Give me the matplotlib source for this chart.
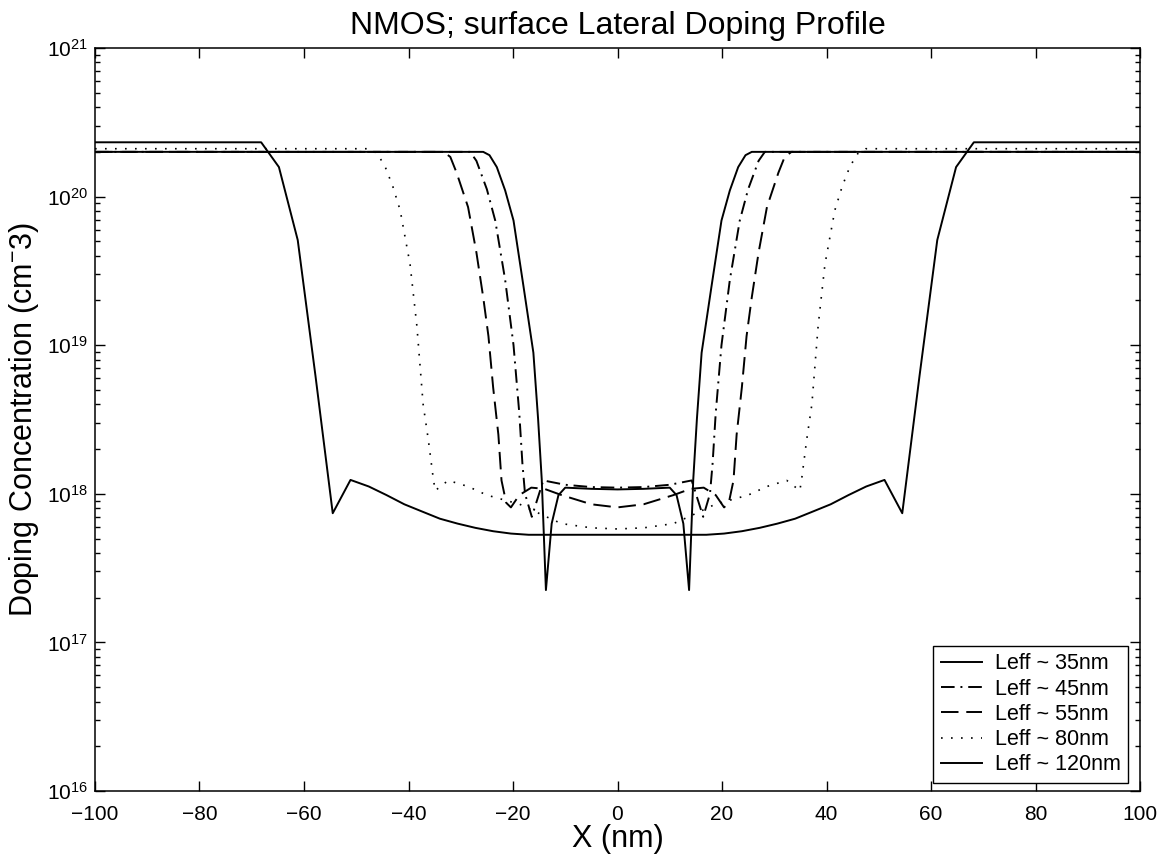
import matplotlib
matplotlib.use("Agg")
import matplotlib.pyplot as plt
from matplotlib.ticker import MultipleLocator, LogLocator

plt.rcParams['font.family'] = ['Liberation Sans', 'DejaVu Sans']
plt.rcParams['mathtext.fontset'] = 'custom'
plt.rcParams['mathtext.rm'] = 'Liberation Sans'
plt.rcParams['mathtext.it'] = 'Liberation Sans:italic'
plt.rcParams['mathtext.bf'] = 'Liberation Sans:bold'

# lateral position (nm) and doping (cm^-3)
x_35 = [-100, -25.7, -24.5, -23.1, -21.5, -19.9, -18.0, -16.1, -15.2, -14.5, -13.7,
        -12.6, -11.3, -10.0, -5.0, 0, 5.0, 10.0, 11.3, 12.6, 13.7, 14.5, 15.2, 16.1,
        18.0, 19.9, 21.5, 23.1, 24.5, 25.7, 100]
n_35 = [2.0e20, 2.0e20, 1.9e20, 1.58e20, 1.1e20, 6.9e19, 2.5e19, 8.9e18, 3.2e18, 1.25e18, 2.25e17,
        6.3e17, 9.8e17, 1.1e18, 1.08e18, 1.07e18, 1.08e18, 1.1e18, 9.8e17, 6.3e17, 2.25e17,
        1.25e18, 3.2e18, 8.9e18, 2.5e19, 6.9e19, 1.1e20, 1.58e20, 1.9e20, 2.0e20, 2.0e20]

x_45 = [-100, -28.2, -27.0, -25.0, -23.4, -21.5, -19.9, -18.8, -18.2, -17.7, -16.4,
        -14.2, -10.0, -5.0, 0, 5.0, 10.0, 14.2, 16.4, 17.7, 18.2, 18.8, 19.9, 21.5,
        23.4, 25.0, 27.0, 28.2, 100]
n_45 = [2.0e20, 2.0e20, 1.74e20, 1.12e20, 6.9e19, 2.75e19, 1.0e19, 3.5e18, 1.6e18, 1.0e18, 7.0e17,
        1.23e18, 1.15e18, 1.11e18, 1.1e18, 1.11e18, 1.15e18, 1.23e18, 7.0e17, 1.0e18, 1.6e18,
        3.5e18, 1.0e19, 2.75e19, 6.9e19, 1.12e20, 1.74e20, 2.0e20, 2.0e20]

x_55 = [-100, -33.3, -32.0, -30.8, -28.6, -27.0, -25.7, -24.7, -23.8, -22.8, -22.2, -21.3,
        -20.4, -18.8, -16.5, -14.0, -10.7, -5.0, 0, 5.0, 10.7, 14.0, 16.5, 18.8, 20.4,
        21.3, 22.2, 22.8, 23.8, 24.7, 25.7, 27.0, 28.6, 30.8, 32.0, 33.3, 100]
n_55 = [2.0e20, 2.0e20, 1.85e20, 1.45e20, 8.5e19, 4.2e19, 2.1e19, 1.15e19, 5.2e18, 2.5e18, 1.23e18, 8.7e17,
        8.1e17, 9.8e17, 1.1e18, 1.08e18, 9.8e17, 8.5e17, 8.1e17, 8.5e17, 9.8e17, 1.08e18, 1.1e18, 9.8e17, 8.1e17,
        8.7e17, 1.23e18, 2.5e18, 5.2e18, 1.15e19, 2.1e19, 4.2e19, 8.5e19, 1.45e20, 1.85e20, 2.0e20, 2.0e20]

x_80 = [-100, -47.5, -46.0, -44.5, -43.0, -41.6, -39.7, -38.4, -37.2, -36.2, -35.3, -34.9,
        -32.4, -28.6, -25.0, -18.7, -14.0, -10.7, -5.0, 0, 5.0, 10.7, 14.0, 18.7, 25.0,
        28.6, 32.4, 34.9, 35.3, 36.2, 37.2, 38.4, 39.7, 41.6, 43.0, 44.5, 46.0, 47.5, 100]
n_80 = [2.1e20, 2.1e20, 1.95e20, 1.6e20, 1.17e20, 8.1e19, 3.5e19, 1.35e19, 4.0e18, 2.3e18, 1.3e18, 1.05e18,
        1.23e18, 1.12e18, 9.8e17, 8.5e17, 7.1e17, 6.3e17, 5.9e17, 5.8e17, 5.9e17, 6.3e17, 7.1e17, 8.5e17, 9.8e17,
        1.12e18, 1.23e18, 1.05e18, 1.3e18, 2.3e18, 4.0e18, 1.35e19, 3.5e19, 8.1e19, 1.17e20, 1.6e20, 1.95e20, 2.1e20, 2.1e20]

x_120 = [-100, -68.2, -64.8, -61.2, -57.8, -54.5, -51.1, -47.6, -44.2, -40.8, -37.4, -34.0,
         -30.6, -27.2, -23.8, -20.4, -17.0, 0, 17.0, 20.4, 23.8, 27.2, 30.6, 34.0, 37.4,
         40.8, 44.2, 47.6, 51.1, 54.5, 57.8, 61.2, 64.8, 68.2, 100]
n_120 = [2.32e20, 2.32e20, 1.58e20, 5.1e19, 6.2e18, 7.4e17, 1.24e18, 1.12e18, 9.8e17, 8.5e17, 7.6e17, 6.8e17,
         6.3e17, 5.9e17, 5.6e17, 5.4e17, 5.3e17, 5.3e17, 5.3e17, 5.4e17, 5.6e17, 5.9e17, 6.3e17, 6.8e17, 7.6e17,
         8.5e17, 9.8e17, 1.12e18, 1.24e18, 7.4e17, 6.2e18, 5.1e19, 1.58e20, 2.32e20, 2.32e20]

labels = ['Leff ~ 35nm', 'Leff ~ 45nm', 'Leff ~ 55nm', 'Leff ~ 80nm', 'Leff ~ 120nm']

fig = plt.figure(figsize=(11.7, 8.57), dpi=100)
ax = fig.add_axes([95 / 1170, 1 - 791 / 857, 1045 / 1170, 743 / 857])

lw = 1.4
ax.plot(x_35, n_35, color='black', lw=lw, ls='-', label=labels[0])
ax.plot(x_45, n_45, color='black', lw=lw, ls=(0, (7, 3, 1, 3)), label=labels[1])
ax.plot(x_55, n_55, color='black', lw=lw, ls=(0, (9, 4)), label=labels[2])
ax.plot(x_80, n_80, color='black', lw=1.2, ls=(0, (1, 5)), label=labels[3])
ax.plot(x_120, n_120, color='black', lw=lw, ls='-', label=labels[4])

ax.set_yscale('log')
ax.set_xlim(-100, 100)
ax.set_ylim(1e16, 1e21)
ax.xaxis.set_major_locator(MultipleLocator(20))
ax.yaxis.set_major_locator(LogLocator(base=10, numticks=10))
ax.yaxis.set_minor_locator(LogLocator(base=10, subs=range(2, 10), numticks=50))

ax.tick_params(which='both', direction='in', top=True, right=True, labelsize=15, width=1.0)
ax.tick_params(which='major', length=7)
ax.tick_params(which='minor', length=3.5)
ax.tick_params(axis='x', pad=10)
ax.tick_params(axis='y', pad=5)
for s in ax.spines.values():
    s.set_linewidth(1.1)

ax.set_title('NMOS; surface Lateral Doping Profile', fontsize=23, pad=10)
ax.set_xlabel('X (nm)', fontsize=22, labelpad=0)
ax.set_ylabel('Doping Concentration (cm$^{-}$3)', fontsize=22, labelpad=4)

leg = ax.legend(loc='lower right', bbox_to_anchor=(1128 / 1170, 1 - 783 / 857),
                bbox_transform=fig.transFigure, borderaxespad=0, fontsize=15.5,
                fancybox=False, edgecolor='black', framealpha=1,
                handlelength=1.9, labelspacing=0.2, borderpad=0.35, handletextpad=0.6)
leg.get_frame().set_linewidth(1.0)

fig.savefig('out.png', dpi=100)
